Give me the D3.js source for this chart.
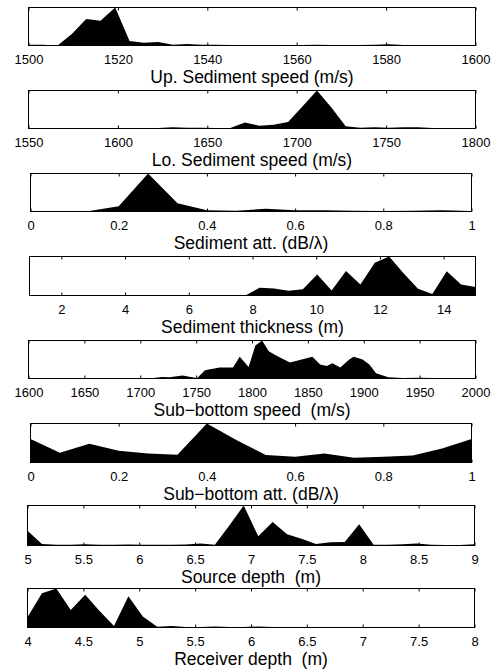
<!DOCTYPE html>
<html><head><meta charset="utf-8">
<script src="https://cdn.jsdelivr.net/npm/d3@7/dist/d3.min.js"></script>
<style>body{margin:0;background:#fff}svg{display:block}</style>
</head><body><svg id="c" width="495" height="671"></svg>
<script>
// ---------- data (normalised to peak = 1) ----------
const titles = [
  "Up. Sediment speed (m/s)",
  "Lo. Sediment speed (m/s)",
  "Sediment att. (dB/\u03bb)",
  "Sediment thickness (m)",
  "Sub\u2212bottom speed  (m/s)",
  "Sub\u2212bottom att. (dB/\u03bb)",
  "Source depth  (m)",
  "Receiver depth  (m)"
];
const domains = [[1500,1600],[1550,1800],[0,1],[1,15],[1600,2000],[0,1],[5,9],[4,8]];
const tickVals = [
  [1500,1520,1540,1560,1580,1600],
  [1550,1600,1650,1700,1750,1800],
  [0,0.2,0.4,0.6,0.8,1],
  [2,4,6,8,10,12,14],
  [1600,1650,1700,1750,1800,1850,1900,1950,2000],
  [0,0.2,0.4,0.6,0.8,1],
  [5,5.5,6,6.5,7,7.5,8,8.5,9],
  [4,4.5,5,5.5,6,6.5,7,7.5,8]
];

const upSedX = [1500,1503.2,1506.5,1509.7,1512.9,1516.1,1519.4,1522.6,1525.8,1529,1532.3,1535.5,1538.7,1541.9,1545.2,1548.4,1551.6,1554.8,1558.1,1561.3,1564.5,1567.7,1571,1574.2,1577.4,1580.6,1583.9,1587.1,1590.3,1593.5,1596.8,1600];
const upSedY = [0.02,0.02,0,0.30,0.70,0.65,1.0,0.12,0.07,0.09,0.02,0.04,0.02,0.02,0.015,0.01,0.01,0.01,0.01,0.01,0.02,0.01,0.01,0.01,0.02,0.03,0.01,0,0,0,0,0];

const loSedX = [1550,1558.1,1566.1,1574.2,1582.3,1590.3,1598.4,1606.5,1614.5,1622.6,1630.6,1638.7,1646.8,1654.8,1662.9,1671,1679,1687.1,1695.2,1703.2,1711.3,1719.4,1727.4,1735.5,1743.5,1751.6,1759.7,1767.7,1775.8,1783.9,1791.9,1800];
const loSedY = [0,0,0,0,0,0,0,0,0.005,0.01,0.03,0.02,0.02,0.015,0.01,0.16,0.07,0.10,0.17,0.58,1.0,0.55,0.06,0.02,0.03,0.02,0.03,0.035,0.01,0,0,0];

const sedAttX = [0,0.0667,0.1333,0.2,0.2667,0.3333,0.4,0.4667,0.5333,0.6,0.6667,0.7333,0.8,0.8667,0.9333,1];
const sedAttY = [0.01,0.01,0.01,0.14,1.0,0.22,0.03,0.02,0.07,0.03,0.03,0.02,0.01,0.02,0.03,0.01];

const thickX = [1,1.452,1.903,2.355,2.806,3.258,3.71,4.161,4.613,5.065,5.516,5.968,6.419,6.871,7.323,7.774,8.226,8.677,9.129,9.581,10.032,10.484,10.935,11.387,11.839,12.29,12.742,13.194,13.645,14.097,14.548,15];
const thickY = [0,0,0,0,0,0,0,0,0,0,0,0,0,0,0,0,0.2,0.18,0.12,0.16,0.54,0.13,0.63,0.28,0.84,1.0,0.57,0.17,0.04,0.62,0.28,0.22];

const subSpdX = [1600,1620,1640,1660,1680,1690,1700,1712,1719,1726,1738,1745,1751,1758,1771,1783,1789,1797,1803,1809,1815,1822,1834,1854,1861,1867,1872,1879,1887,1891,1899,1905,1911,1922,1935,1950,1960,1975,2000];
const subSpdY = [0,0,0,0.005,0.01,0.01,0.015,0.01,0.04,0.03,0.08,0.04,0.01,0.22,0.29,0.29,0.57,0.30,0.87,1.0,0.72,0.60,0.42,0.57,0.37,0.33,0.40,0.29,0.50,0.57,0.50,0.37,0.14,0.03,0.01,0.02,0.01,0,0];

const subAttX = [0,0.0667,0.1333,0.2,0.2667,0.3333,0.4,0.4667,0.5333,0.6,0.6667,0.7333,0.8,0.8667,0.9333,1];
const subAttY = [0.60,0.25,0.48,0.30,0.23,0.20,1.0,0.58,0.19,0.15,0.23,0.12,0.15,0.18,0.36,0.60];

const srcX = [5,5.129,5.258,5.387,5.516,5.645,5.774,5.903,6.032,6.161,6.29,6.419,6.548,6.677,6.806,6.935,7.065,7.194,7.323,7.452,7.581,7.71,7.839,7.968,8.097,8.226,8.355,8.484,8.613,8.742,8.871,9];
const srcY = [0.37,0.04,0.02,0.02,0.03,0.02,0.02,0.025,0.02,0.02,0.02,0.025,0.05,0.02,0.5,1.0,0.23,0.59,0.28,0.17,0.04,0.08,0.09,0.53,0.02,0.02,0.03,0.05,0.02,0.01,0.01,0.03];

const rcvX = [4,4.129,4.258,4.387,4.516,4.645,4.774,4.903,5.032,5.161,5.29,5.419,5.548,5.677,5.806,5.935,6.065,6.194,6.323,6.452,6.581,6.71,6.839,6.968,7.097,7.226,7.355,7.484,7.613,7.742,7.871,8];
const rcvY = [0.26,0.88,1.0,0.45,0.84,0.42,0.04,0.80,0.28,0.02,0.04,0.01,0.01,0.025,0.01,0.015,0.025,0.01,0.005,0,0,0,0,0,0,0,0,0,0,0,0,0];

const seriesX = [upSedX, loSedX, sedAttX, thickX, subSpdX, subAttX, srcX, rcvX];
const seriesY = [upSedY, loSedY, sedAttY, thickY, subSpdY, subAttY, srcY, rcvY];

// ---------- layout (box edges in px: left, right, top, bottom) ----------
const boxes = [
  [28.5, 475.5, 7.5, 45.5],
  [28.5, 475.5, 90.5, 128.5],
  [30.5, 471.5, 173.5, 211.5],
  [29.5, 475.5, 256.5, 295.5],
  [28.5, 475.5, 340.5, 378.5],
  [30.5, 471.5, 423.5, 462.5],
  [27.5, 474.5, 505.5, 545.5],
  [27.5, 474.5, 588.5, 627.5]
];

const svg = d3.select("#c");
const FONT = "'Liberation Sans', Arial, Helvetica, sans-serif";

titles.forEach((title, i) => {
  const [l, r, t, b] = boxes[i];
  const x = d3.scaleLinear().domain(domains[i]).range([l, r]);
  const y = d3.scaleLinear().domain([0, 1]).range([b, t]);
  const g = svg.append("g");
  const data = seriesX[i].map((v, k) => [v, seriesY[i][k]]);

  g.append("path")
    .datum(data)
    .attr("fill", "#000")
    .attr("d", d3.area().x(d => x(d[0])).y0(b).y1(d => y(d[1])));

  // bottom axis: inward ticks + labels
  const ax = g.append("g").attr("transform", `translate(0,${b})`)
    .call(d3.axisBottom(x).tickValues(tickVals[i]).tickSize(-3).tickFormat(d3.format("")));
  ax.select(".domain").remove();
  ax.selectAll("line").attr("stroke", "#000");
  ax.selectAll("text").attr("y", 18.5).attr("dy", 0)
    .style("font-family", FONT).style("font-size", "13px").attr("fill", "#000");

  // top axis: inward ticks only
  const at = g.append("g").attr("transform", `translate(0,${t})`)
    .call(d3.axisTop(x).tickValues(tickVals[i]).tickSize(-3).tickFormat(""));
  at.select(".domain").remove();
  at.selectAll("line").attr("stroke", "#000");

  g.append("rect")
    .attr("x", l).attr("y", t).attr("width", r - l).attr("height", b - t)
    .attr("fill", "none").attr("stroke", "#000").attr("stroke-width", 1);

  g.append("text")
    .attr("x", (l + r) / 2).attr("y", b + 37.5)
    .attr("text-anchor", "middle")
    .style("font-family", FONT).style("font-size", "17.5px")
    .style("white-space", "pre")
    .attr("fill", "#000")
    .text(title);
});
</script></body></html>
